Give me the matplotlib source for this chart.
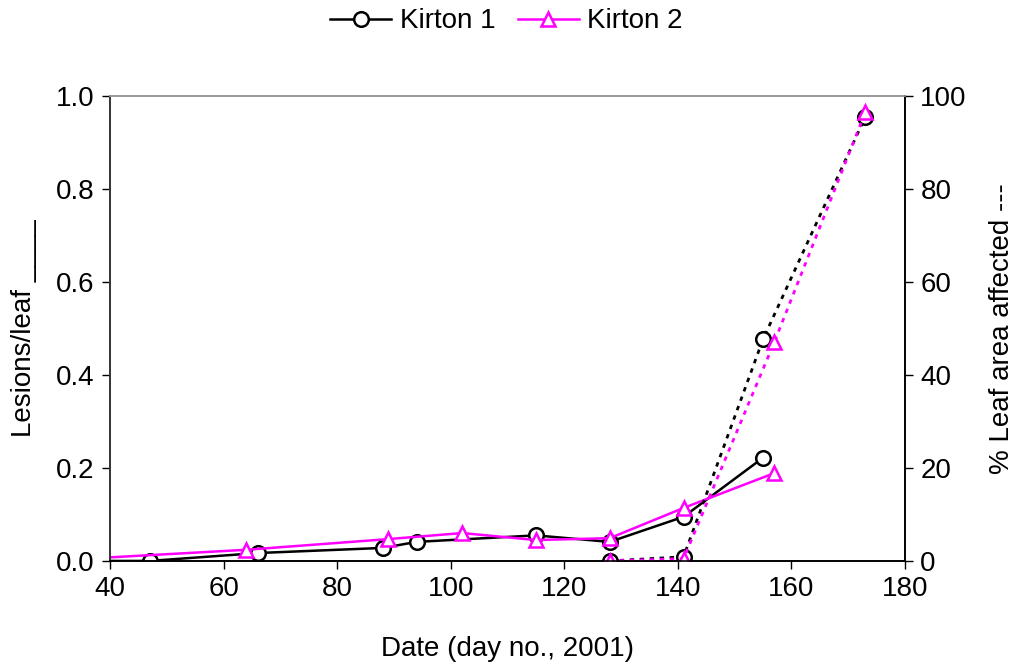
import matplotlib.pyplot as plt

plt.rcParams['font.family'] = ['Liberation Sans', 'DejaVu Sans']
plt.rcParams['font.size'] = 20

# Lesions per leaf (left axis, solid lines)
k1_days = [33, 47, 66, 88, 94, 115, 128, 141, 155]
k1_lesions = [0.0, 0.0, 0.017, 0.028, 0.041, 0.055, 0.041, 0.095, 0.222]
k2_days = [33, 64, 89, 102, 115, 128, 141, 157]
k2_lesions = [0.003, 0.024, 0.047, 0.060, 0.045, 0.049, 0.114, 0.189]

# Percent leaf area affected (right axis, dotted lines)
k1_area_days = [128, 141, 155, 173]
k1_area = [0.0, 0.9, 47.7, 95.5]
k2_area_days = [128, 141, 157, 173]
k2_area = [0.0, 0.5, 47.1, 96.5]

MAGENTA = '#ff00ff'

fig = plt.figure(figsize=(10.13, 6.67), dpi=100)
ax = fig.add_axes([0.1086, 0.159, 0.7848, 0.697])
ax2 = ax.twinx()

mk = dict(markersize=10.5, markerfacecolor='white', markeredgewidth=1.8)
ax.plot(k1_days, k1_lesions, color='black', lw=1.8, marker='o',
        markeredgecolor='black', label='Kirton 1', **mk)
ax.plot(k2_days, k2_lesions, color=MAGENTA, lw=1.8, marker='^',
        markeredgecolor=MAGENTA, label='Kirton 2', **mk)

ax2.plot(k1_area_days, k1_area, color='black', lw=2, ls=(0, (1.6, 2.0)),
         marker='o', markeredgecolor='black', **mk)
ax2.plot(k2_area_days, k2_area, color=MAGENTA, lw=2, ls=(0, (1.6, 2.0)),
         marker='^', markeredgecolor=MAGENTA, **mk)

ax.set_xlim(40, 180)
ax.set_ylim(0, 1.0)
ax2.set_ylim(0, 100)
ax.set_xticks(range(40, 181, 20))
ax.set_yticks([0, 0.2, 0.4, 0.6, 0.8, 1.0])
ax.set_yticklabels(['0.0', '0.2', '0.4', '0.6', '0.8', '1.0'])
ax2.set_yticks(range(0, 101, 20))

for a in (ax, ax2):
    a.tick_params(direction='out', length=6, width=1, pad=5)
    a.spines['top'].set_color('#999999')
    a.spines['left'].set_color('#333333')
    a.spines['right'].set_color('black')
    a.spines['bottom'].set_color('black')
    for s in a.spines.values():
        s.set_linewidth(1.2)

ax.set_xlabel('Date (day no., 2001)', labelpad=24)
ax.set_ylabel('Lesions/leaf ____', labelpad=14)
ax2.set_ylabel('% Leaf area affected ---', labelpad=16)

handles, labels = ax.get_legend_handles_labels()
fig.legend(handles, labels, loc='upper center', bbox_to_anchor=(0.5, 1.025),
           ncol=2, frameon=False, handlelength=2.2, columnspacing=0.8,
           handletextpad=0.3)

fig.savefig('out.png', dpi=100)
